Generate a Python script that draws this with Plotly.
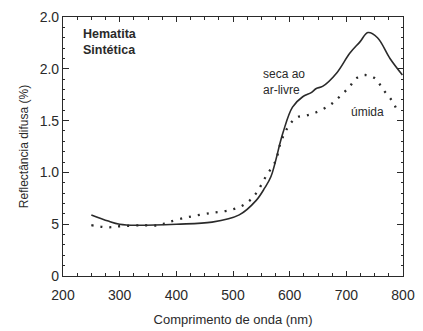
import plotly.graph_objects as go

# Data
seca_nm = [250, 280, 300, 330, 400, 463, 511, 541, 556, 567, 588, 605, 623, 638, 647, 658, 683, 706, 724, 738, 755, 777, 799]
seca_r = [0.59, 0.53, 0.50, 0.49, 0.50, 0.52, 0.59, 0.73, 0.85, 0.96, 1.38, 1.63, 1.73, 1.77, 1.81, 1.83, 1.96, 2.15, 2.26, 2.35, 2.30, 2.10, 1.94]

umida_nm = [250, 280, 300, 340, 369, 386, 422, 463, 498, 523, 541, 558, 576, 582, 594, 612, 630, 647, 671, 688, 706, 718, 733, 750, 765, 782, 791]
umida_r = [0.49, 0.47, 0.48, 0.49, 0.49, 0.52, 0.57, 0.61, 0.64, 0.70, 0.80, 0.96, 1.12, 1.25, 1.41, 1.53, 1.55, 1.58, 1.65, 1.73, 1.83, 1.91, 1.94, 1.91, 1.80, 1.68, 1.58]

x_ticks = [200, 300, 400, 500, 600, 700, 800]
y_tickvals = [0, 0.5, 1.0, 1.5, 2.0, 2.5]
y_ticktext = ["0", "5", "1.0", "1.5", "2.0", "2.0"]

FONT = "Liberation Sans, Arial, sans-serif"
INK = "#2a2a2a"

fig = go.Figure()
fig.add_trace(go.Scatter(x=seca_nm, y=seca_r, mode="lines", line=dict(color=INK, width=1.6, shape="spline"),
                         showlegend=False, hoverinfo="skip"))
fig.add_trace(go.Scatter(x=umida_nm, y=umida_r, mode="lines", line=dict(color=INK, width=2.3, dash="2px,7px", shape="spline"),
                         showlegend=False, hoverinfo="skip"))

fig.add_annotation(x=232, y=2.26, xref="x", yref="y", text="<b>Hematita<br>Sintética</b>", showarrow=False,
                   xanchor="left", yanchor="middle", align="left", font=dict(family=FONT, size=12.5, color=INK))
fig.add_annotation(x=549, y=1.87, xref="x", yref="y", text="seca ao<br>ar-livre", showarrow=False,
                   xanchor="left", yanchor="middle", align="left", font=dict(family=FONT, size=12, color=INK))
fig.add_annotation(x=704, y=1.58, xref="x", yref="y", text="úmida", showarrow=False,
                   xanchor="left", yanchor="middle", align="left", font=dict(family=FONT, size=12, color=INK))

fig.update_xaxes(range=[200, 800], tickvals=x_ticks, ticks="inside", ticklen=5, tickwidth=1.2, tickcolor=INK,
                 mirror="allticks", showline=True, linecolor=INK, linewidth=1.2, showgrid=False, zeroline=False,
                 minor=dict(dtick=25, ticks="inside", ticklen=3, tickcolor=INK, showgrid=False),
                 tickfont=dict(family=FONT, size=14, color=INK), ticklabelstandoff=6, automargin=False,
                 title=dict(text="Comprimento de onda (nm)", font=dict(family=FONT, size=13, color=INK), standoff=12))
fig.update_yaxes(range=[0, 2.5], tickvals=y_tickvals, ticktext=y_ticktext, ticks="inside", ticklen=6, tickwidth=1.2,
                 tickcolor=INK, mirror="allticks", showline=True, linecolor=INK, linewidth=1.2, showgrid=False,
                 zeroline=False, automargin=False,
                 minor=dict(dtick=0.1, ticks="inside", ticklen=2, tickcolor=INK, showgrid=False),
                 tickfont=dict(family=FONT, size=14, color=INK),
                 title=dict(text="Reflectância difusa (%)", font=dict(family=FONT, size=12, color=INK), standoff=8))

fig.update_layout(width=423, height=331, margin=dict(l=63, r=20, t=17, b=55),
                  plot_bgcolor="white", paper_bgcolor="white")

fig.write_html("out.html")
